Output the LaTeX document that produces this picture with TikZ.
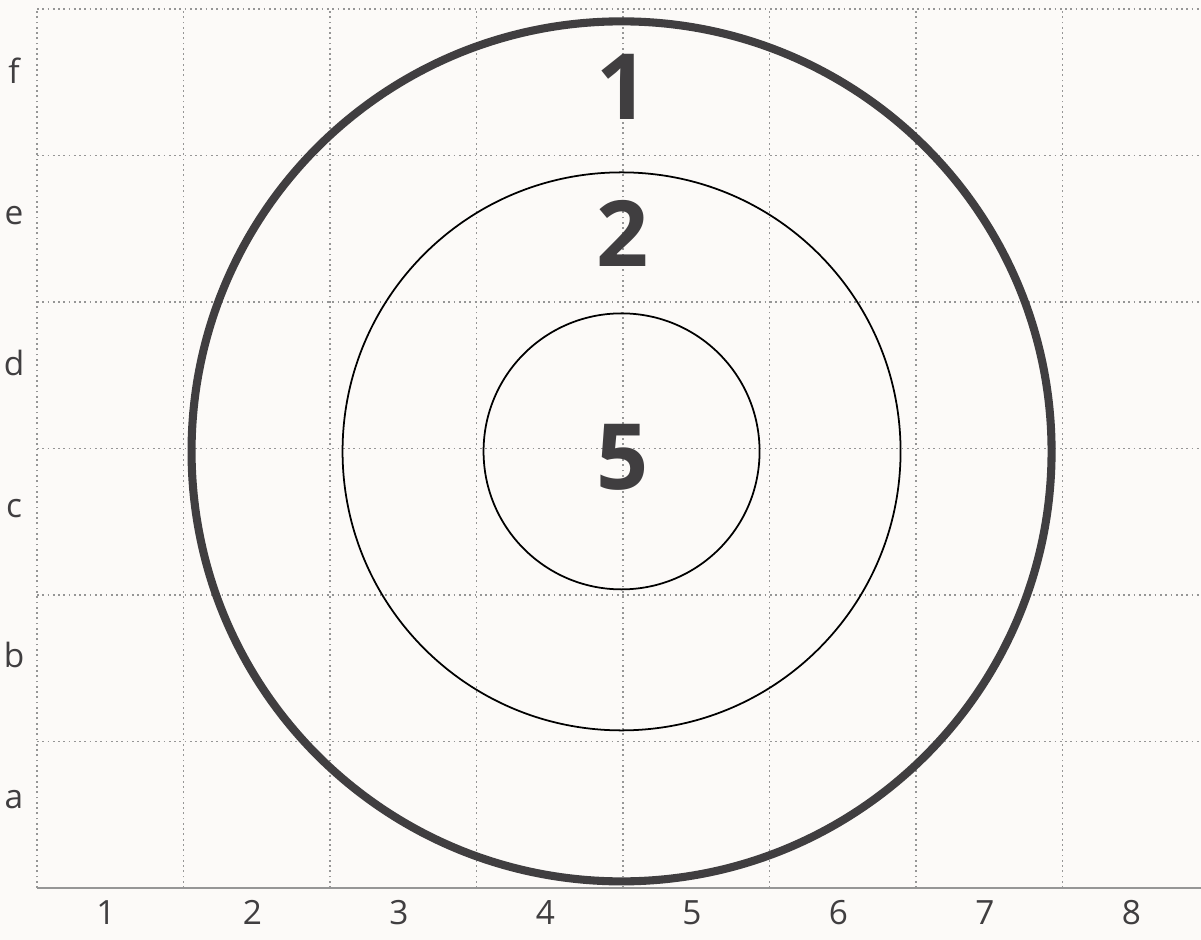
\documentclass[tikz,border=0pt]{standalone}
\usepackage{fontspec}
\setmainfont{Open Sans}
\usepackage{xcolor}
\usetikzlibrary{positioning}
\definecolor{inkDark}{RGB}{64, 62, 64}
\definecolor{gridGray}{RGB}{150, 150, 150}
\definecolor{paperWhite}{RGB}{252, 250, 248}

\begin{document}
\begin{tikzpicture}[
    x=1.465cm, y=1.465cm,
    gridline/.style={
        draw=gridGray,
        line width=0.5pt,
        densely dotted
    },
    outerring/.style={
        circle,
        minimum size=8.6cm,
        draw=inkDark,
        line width=2.3pt
    },
    midring/.style={
        circle,
        minimum size=5.58cm,
        draw=black,
        line width=0.5pt
    },
    innerring/.style={
        circle,
        minimum size=2.76cm,
        draw=black,
        line width=0.5pt
    },
    score/.style={
        font=\fontsize{26}{30}\bfseries\selectfont,
        text=inkDark,
        inner sep=0pt
    },
    axislabel/.style={
        font=\fontsize{9.5}{11}\selectfont,
        text=inkDark,
        inner sep=0pt
    }
]

% Page
\fill[paperWhite] (-0.2526,-0.355) rectangle (7.945,6.061);
\useasboundingbox (-0.2526,-0.355) rectangle (7.945,6.061);

% Grid
\draw[gridline, step={(1,1)}] (0,0) grid (7.945,6);
\draw[gridGray, line width=0.5pt] (0,0) -- (7.945,0);

% Concentric rings
\node[outerring] (outer) at (3.99,2.98) {};
\node[midring] (middle) at (3.99,2.98) {};
\node[innerring] (inner) at (3.99,2.98) {};

% Scores
\node[score] (s1) at (4,5.47) {1};
\node[score] (s2) at (4,4.47) {2};
\node[score] (s5) at (4,2.94) {5};

% Row labels
\node[axislabel] (rowa) at (-0.157,0.60) {a};
\node[axislabel] (rowb) at (-0.157,1.59) {b};
\node[axislabel] (rowc) at (-0.157,2.59) {c};
\node[axislabel] (rowd) at (-0.157,3.58) {d};
\node[axislabel] (rowe) at (-0.157,4.59) {e};
\node[axislabel] (rowf) at (-0.157,5.58) {f};

% Column labels
\node[axislabel] (col1) at (0.47,-0.17) {1};
\node[axislabel] (col2) at (1.47,-0.17) {2};
\node[axislabel] (col3) at (2.47,-0.17) {3};
\node[axislabel] (col4) at (3.47,-0.17) {4};
\node[axislabel] (col5) at (4.47,-0.17) {5};
\node[axislabel] (col6) at (5.47,-0.17) {6};
\node[axislabel] (col7) at (6.47,-0.17) {7};
\node[axislabel] (col8) at (7.47,-0.17) {8};

\end{tikzpicture}
\end{document}
